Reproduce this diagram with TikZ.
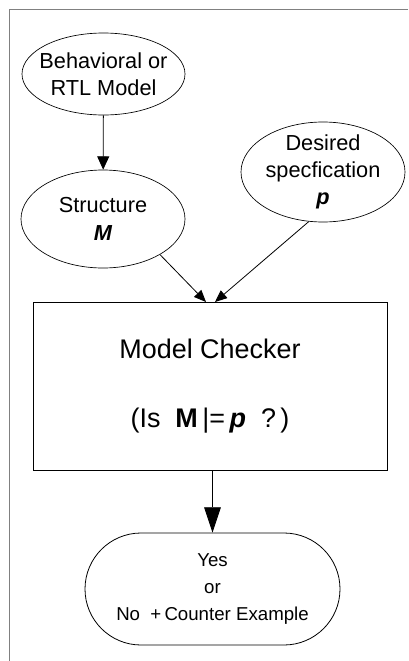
\documentclass[tikz,border=0pt]{standalone}
\usepackage{fontspec}
\setmainfont{Liberation Sans}
\usetikzlibrary{shapes.geometric, arrows.meta}

\begin{document}
\begin{tikzpicture}[x=0.75pt, y=-0.75pt,
		oval/.style={draw, ellipse, inner sep=0pt, line width=0.5pt},
		ovaltext/.style={align=center, font=\fontsize{16.3}{20.5}\selectfont},
		flow/.style={line width=0.6pt}]
	
	\useasboundingbox (0,0) rectangle (408,661);
	
	% cornice
	\draw[gray, line width=0.6pt] (408,9) -- (9,9) -- (9,661);
	
	% modello e struttura
	\node[oval, minimum width=122.25pt, minimum height=61.5pt] (beh) at (103.5,74) {};
	\node[ovaltext] (behtxt) at (beh) {Behavioral or\\RTL Model};
	
	\node[oval, minimum width=123pt, minimum height=73.5pt] (struct) at (103,219) {};
	\node[ovaltext] (structtxt) at (struct) {Structure\\\textbf{\textit{M}}};
	
	% specifica
	\node[oval, minimum width=123pt, minimum height=75pt] (spec) at (323,172) {};
	\node[ovaltext] (spectxt) at (spec) {Desired\\specfication\\\textbf{\textit{p}}};
	
	% model checker
	\node[draw, line width=0.7pt, minimum width=265.5pt, minimum height=126pt,
		align=center, font=\fontsize{20.2}{24}\selectfont] (checker) at (210,386)
		{Model Checker\\[28pt](Is~~\textbf{M}\,|=\,\textbf{\textit{p}}~~?\,)};
	
	% risultato
	\node[draw, line width=0.6pt, rounded corners=42pt, minimum width=191.25pt,
		minimum height=84pt, align=center, font=\fontsize{14}{20}\selectfont]
		(result) at (212.5,589) {Yes\\or\\No~~+\,Counter Example};
	
	% frecce
	\coordinate (in1) at (206,302);
	\coordinate (in2) at (215,302);
	\draw[flow, -{Triangle[length=10pt, width=9pt]}] (beh) -- (struct);
	\draw[flow, -{Triangle[length=9pt, width=7.5pt]}] (struct.-32) -- (in1);
	\draw[flow, -{Triangle[length=9pt, width=7.5pt]}] (spec.-106) -- (in2);
	\draw[flow, -{Triangle[length=19pt, width=12.5pt]}] (result.north |- checker.south) -- (result.north);
	
\end{tikzpicture}
\end{document}
